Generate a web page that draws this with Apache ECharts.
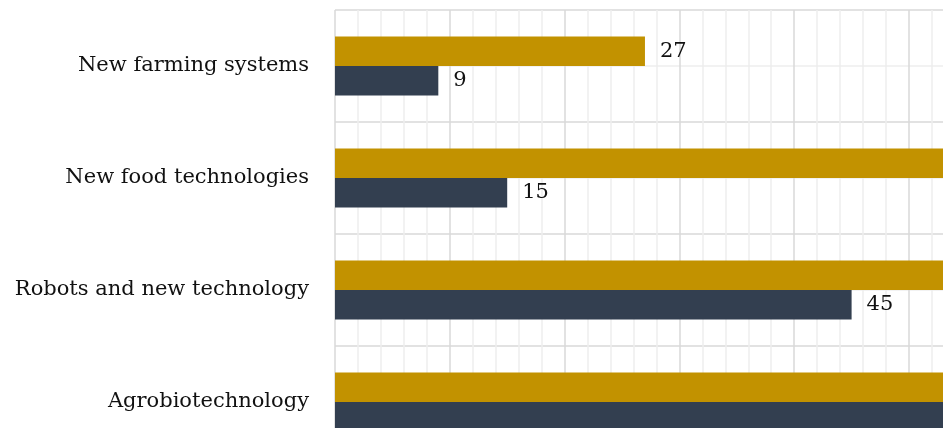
<!DOCTYPE html>
<html>
<head>
<meta charset="utf-8">
<script src="https://cdn.jsdelivr.net/npm/echarts@6/dist/echarts.min.js"></script>
<style>
  html, body { margin: 0; padding: 0; background: #fff; }
  #chart { width: 943px; height: 428px; }
</style>
</head>
<body>
<div id="chart"></div>
<script>
// categories top to bottom
var categories = ['New farming systems', 'New food technologies', 'Robots and new technology', 'Agrobiotechnology'];
// gold series (rows 2-4 run off the right edge in the picture, values estimated)
var goldValues = [27, 60, 72, 66];
// navy series
var navyValues = [9, 15, 45, 58];

var fontFamily = "'DejaVu Serif', 'Liberation Serif', serif";
var goldColor = '#c29200';
var navyColor = '#333f50';
var majorGrid = '#d9d9d9';
var minorGrid = '#eeeeee';

var chart = echarts.init(document.getElementById('chart'), null, { renderer: 'canvas' });

var labelStyle = {
    show: true,
    position: 'right',
    distance: 15,
    fontFamily: fontFamily,
    fontSize: 21,
    color: '#111'
};

chart.setOption({
    animation: false,
    grid: { left: 335, top: 10, width: 918.4, height: 448, containLabel: false, outerBoundsMode: 'none' },
    xAxis: {
        type: 'value',
        min: 0,
        max: 80,
        interval: 10,
        axisLabel: { show: false },
        axisLine: { show: false },
        axisTick: { show: false },
        splitLine: { show: true, lineStyle: { color: majorGrid, width: 1.5 } },
        minorTick: { show: false, splitNumber: 5 },
        minorSplitLine: { show: true, lineStyle: { color: minorGrid, width: 1.5 } }
    },
    yAxis: [{
        type: 'category',
        data: categories,
        inverse: true,
        axisLine: { show: false },
        axisTick: { show: false },
        axisLabel: { margin: 26, fontFamily: fontFamily, fontSize: 21, color: '#111' },
        splitLine: { show: true, lineStyle: { color: majorGrid, width: 1.5 } }
    }, {
        // helper axis, only for the faint lines through the middle of each row
        type: 'value',
        min: 0,
        max: 4,
        interval: 1,
        position: 'left',
        axisLine: { show: false },
        axisTick: { show: false },
        axisLabel: { show: false },
        splitLine: { show: false },
        minorTick: { show: false, splitNumber: 2 },
        minorSplitLine: { show: true, lineStyle: { color: minorGrid, width: 1.5 } }
    }],
    series: [{
        name: 'gold',
        type: 'bar',
        yAxisIndex: 0,
        data: goldValues,
        barWidth: 29.5,
        barGap: '0%',
        itemStyle: { color: goldColor },
        label: labelStyle
    }, {
        name: 'navy',
        type: 'bar',
        yAxisIndex: 0,
        data: navyValues,
        barWidth: 29.5,
        barGap: '0%',
        itemStyle: { color: navyColor },
        label: labelStyle
    }]
});
</script>
</body>
</html>
